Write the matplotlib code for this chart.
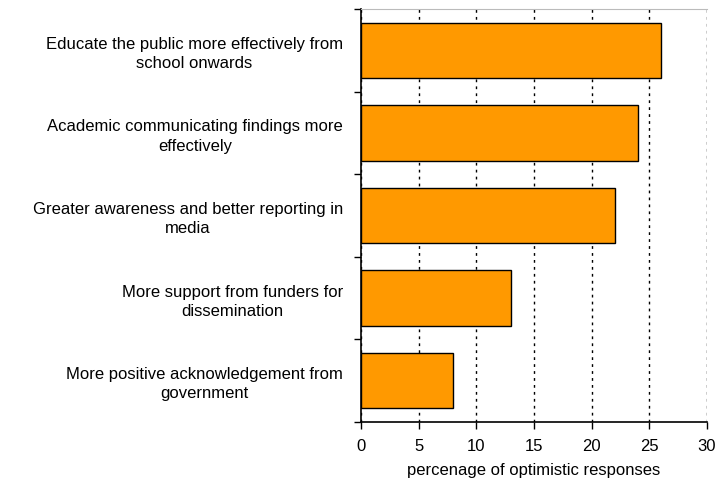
import numpy as np
import matplotlib.pyplot as plt
from matplotlib.ticker import FixedLocator

plt.rcParams['font.family'] = ['Liberation Sans', 'DejaVu Sans']

labels = [
    'Educate the public more effectively from\nschool onwards',
    'Academic communicating findings more\neffectively',
    'Greater awareness and better reporting in\nmedia',
    'More support from funders for\ndissemination',
    'More positive acknowledgement from\ngovernment',
]
values = [26, 24, 22, 13, 8]
xticks = [0, 5, 10, 15, 20, 25, 30]

fig = plt.figure(figsize=(7.17, 4.86), dpi=100)
ax = fig.add_axes([361/717, 1 - 422/486, (707 - 361)/717, (422 - 9)/486])

y = np.arange(len(labels))[::-1]
ax.barh(y, values, height=0.67, color='#FF9900', edgecolor='black', linewidth=1, zorder=3)

ax.set_xlim(0, 30)
ax.set_ylim(-0.5, len(labels) - 0.5)
ax.set_xticks(xticks)
ax.set_yticks(y)
ax.set_yticklabels(labels, fontsize=12, ha='right', multialignment='center',
                   linespacing=1.35)
ax.yaxis.set_minor_locator(FixedLocator(np.arange(-0.5, len(labels), 1)))
ax.tick_params(axis='y', which='major', length=0, pad=13)
ax.tick_params(axis='y', which='minor', length=5, width=1, direction='out')
ax.tick_params(axis='x', length=5, width=1, direction='out', labelsize=12, pad=7)

ax.grid(axis='x', linestyle=(0, (2, 3)), color='black', linewidth=1, zorder=0)
ax.spines['top'].set_color('#bbbbbb')
ax.spines['top'].set_linewidth(0.8)
ax.spines['right'].set_visible(False)
ax.spines['left'].set_linewidth(1.2)
ax.spines['bottom'].set_linewidth(1.2)

ax.set_xlabel('percenage of optimistic responses', fontsize=12, labelpad=7)

fig.savefig('out.png', dpi=100)
